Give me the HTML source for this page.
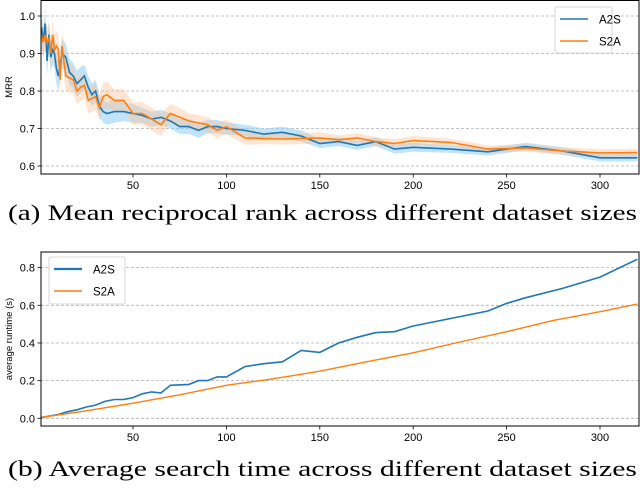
<!DOCTYPE html>
<html><head><meta charset="utf-8"><style>
body{margin:0;background:#fff;width:640px;height:484px;overflow:hidden;font-family:"Liberation Sans",sans-serif}
</style></head><body>
<svg id="svg" width="640" height="484" xmlns="http://www.w3.org/2000/svg"></svg>
<script>
const mrrX=[1,2,3,4,5,6,7,8,9,10,11,12,14,16,18,20,22,24,26,28,30,32,34,36,40,45,50,55,60,65,70,75,80,85,90,95,100,110,120,130,140,150,160,170,180,190,200,220,240,260,280,300,320];
const mrrA2S=[.97,.93,.98,.88,.95,.89,.91,.90,.86,.84,.87,.90,.89,.85,.84,.82,.83,.84,.81,.79,.80,.76,.745,.74,.745,.745,.74,.735,.725,.73,.72,.705,.705,.695,.705,.705,.70,.695,.685,.69,.68,.66,.665,.655,.665,.645,.65,.645,.638,.652,.64,.622,.622];
const mrrS2A=[.95,.93,.95,.93,.94,.90,.95,.91,.92,.91,.83,.92,.84,.835,.83,.80,.81,.815,.775,.78,.785,.755,.785,.79,.775,.775,.74,.74,.725,.71,.74,.73,.72,.715,.71,.695,.705,.675,.673,.672,.673,.675,.67,.675,.665,.66,.668,.663,.645,.648,.64,.635,.636];
const errA2S=[.04,.04,.04,.04,.04,.04,.04,.04,.04,.04,.04,.04,.035,.035,.035,.035,.035,.03,.03,.03,.03,.03,.03,.03,.03,.025,.025,.02,.02,.02,.02,.02,.02,.02,.018,.018,.016,.015,.015,.015,.015,.012,.012,.012,.012,.012,.012,.01,.01,.01,.01,.01,.01];
const errS2A=[.04,.04,.04,.04,.04,.04,.04,.04,.04,.04,.04,.04,.04,.04,.035,.035,.035,.035,.035,.035,.035,.035,.035,.035,.03,.03,.03,.03,.03,.03,.025,.025,.02,.02,.02,.02,.02,.018,.015,.015,.015,.015,.012,.012,.012,.012,.012,.01,.01,.01,.01,.01,.01];
const rtX_A2S=[1,10,15,20,25,30,35,40,45,50,55,60,65,70,80,85,90,95,100,110,120,130,140,150,160,170,180,190,200,220,240,250,260,280,300,320];
const rtA2S=[.005,.02,.035,.045,.06,.07,.09,.1,.1,.11,.13,.14,.135,.175,.18,.2,.2,.22,.22,.275,.29,.3,.36,.35,.4,.43,.455,.46,.49,.53,.57,.61,.64,.69,.75,.845];
const rtX_S2A=[1,25,50,75,100,125,150,175,200,225,250,275,300,320];
const rtS2A=[.005,.04,.08,.125,.175,.21,.25,.3,.348,.405,.46,.52,.566,.607];
const xTicks=[50,100,150,200,250,300];
const mrrTicks=[0.6,0.7,0.8,0.9,1.0];
const rtTicks=[0.0,0.2,0.4,0.6,0.8];

const NS="http://www.w3.org/2000/svg",svg=document.getElementById('svg');
function mk(t,a,p){const e=document.createElementNS(NS,t);for(const k in a)e.setAttribute(k,a[k]);(p||svg).appendChild(e);return e;}
const L=41,R=639;
const sx=v=>39.6+v*1.868;
const syT=v=>16+(1.0-v)*375;
const syB=v=>418.3-v*188.3;
const BLUE="#1f77b4",ORG="#ff7f0e";

function panel(name,top,bot,sy,ticks,fmt,ylabel){
  const g=mk('g',{});
  
  
  ticks.forEach(t=>{
    const y=sy(t);
    const gl=mk('line',{x1:L,x2:R,y1:y,y2:y,stroke:'#b0b0b0','stroke-width':0.8,'stroke-dasharray':'3,2'},g);
    
    mk('line',{x1:L-3.5,x2:L,y1:y,y2:y,stroke:'#000','stroke-width':0.8},g);
    const tx=mk('text',{x:L-6,y:y+4,'font-size':11,'text-anchor':'end',fill:'#000'},g);
    tx.textContent=fmt(t);
    
  });
  xTicks.forEach(t=>{
    const x=sx(t);
    mk('line',{x1:x,x2:x,y1:bot,y2:bot+3.5,stroke:'#000','stroke-width':0.8},g);
    const tx=mk('text',{x:x,y:bot+15,'font-size':11,'text-anchor':'middle',fill:'#000'},g);
    tx.textContent=t;
    
  });
  const yl=mk('text',{x:0,y:0,'font-size':9.5,'text-anchor':'middle',transform:`translate(12,${(top+bot)/2}) rotate(-90)`},g);
  yl.textContent=ylabel;
  
  return g;
}
function path(xs,ys,sy){return xs.map((x,i)=>(i?'L':'M')+sx(x).toFixed(1)+','+sy(ys[i]).toFixed(1)).join('');}
function band(xs,ys,es,sy){
  let d=xs.map((x,i)=>(i?'L':'M')+sx(x).toFixed(1)+','+sy(ys[i]+es[i]).toFixed(1)).join('');
  for(let i=xs.length-1;i>=0;i--)d+='L'+sx(xs[i]).toFixed(1)+','+sy(ys[i]-es[i]).toFixed(1);
  return d+'Z';
}
const topG=panel('mrr-chart',0,174,syT,mrrTicks,t=>t.toFixed(1),'MRR');
const cp1=mk('clipPath',{id:'c1'});mk('rect',{x:L,y:0,width:R-L,height:174},cp1);
const b1=mk('path',{d:band(mrrX,mrrA2S,errA2S,syT),fill:'#8fcdf5','fill-opacity':0.55,'clip-path':'url(#c1)'},topG);

const b2=mk('path',{d:band(mrrX,mrrS2A,errS2A,syT),fill:'#ffbf8f','fill-opacity':0.4,'clip-path':'url(#c1)'},topG);

const l1=mk('path',{d:path(mrrX,mrrA2S,syT),fill:'none',stroke:BLUE,'stroke-width':1.6,'clip-path':'url(#c1)'},topG);

const l2=mk('path',{d:path(mrrX,mrrS2A,syT),fill:'none',stroke:ORG,'stroke-width':1.6,'clip-path':'url(#c1)'},topG);

const f1=mk('rect',{x:L,y:0.5,width:R-L,height:173.5,fill:'none',stroke:'#000','stroke-width':1},topG);

const botG=panel('runtime-chart',252,426,syB,rtTicks,t=>t.toFixed(1),'average runtime (s)');
const l3=mk('path',{d:path(rtX_A2S,rtA2S,syB),fill:'none',stroke:BLUE,'stroke-width':1.6},botG);

const l4=mk('path',{d:path(rtX_S2A,rtS2A,syB),fill:'none',stroke:ORG,'stroke-width':1.4},botG);

const f2=mk('rect',{x:L,y:252,width:R-L,height:174,fill:'none',stroke:'#000','stroke-width':1},botG);


function legend(name,x,y,w,h,lw){
  const g=mk('g',{});
  
  
  mk('rect',{x:x,y:y,width:w,height:h,rx:2,fill:'#fff','fill-opacity':0.85,stroke:'#ccc','stroke-width':0.8},g);
  [['A2S',BLUE,lw[0]],['S2A',ORG,lw[1]]].forEach((s,i)=>{
    const yy=y+12+i*22;
    const e=mk('g',{},g);
    
    mk('line',{x1:x+5,x2:x+33,y1:yy,y2:yy,stroke:s[1],'stroke-width':s[2]},e);
    const t=mk('text',{x:x+44,y:yy+4.5,'font-size':11.5,fill:'#000'},e);t.textContent=s[0];
  });
}
legend('mrr-legend',555,7,57,46,[1.6,1.6]);
legend('runtime-legend',49,257,76,47,[2.2,1.4]);

function cap(txt,y,n){const t=mk('text',{x:8,y:y,'font-size':22,'textLength':629,'lengthAdjust':'spacingAndGlyphs','font-family':'"Liberation Serif", serif',fill:'#000'});t.textContent=txt;
}
cap('(a) Mean reciprocal rank across different dataset sizes',220,'caption-a');
cap('(b) Average search time across different dataset sizes',476,'caption-b');
</script>
</body></html>
